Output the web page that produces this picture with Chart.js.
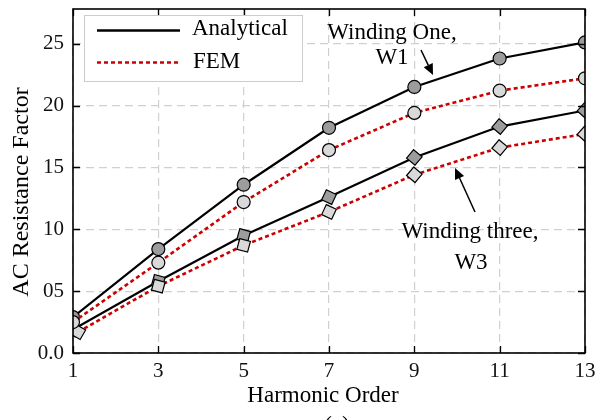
<!DOCTYPE html>
<html>
<head>
<meta charset="utf-8">
<script src="https://cdn.jsdelivr.net/npm/chart.js@4"></script>
<style>
html,body{margin:0;padding:0;background:#fff;}
#wrap{width:597px;height:420px;position:relative;}
</style>
</head>
<body>
<div id="wrap"><canvas id="c" width="597" height="420"></canvas></div>
<script>
const harmonics = [1, 3, 5, 7, 9, 11, 13];
const w3FemHarmonics = [1.12, 3, 5, 7, 9, 11, 13];
const w1Analytical = [2.9, 8.4, 13.6, 18.2, 21.5, 23.8, 25.1];
const w1FEM = [2.5, 7.3, 12.2, 16.4, 19.4, 21.2, 22.2];
const w3Analytical = [1.9, 5.8, 9.5, 12.6, 15.8, 18.3, 19.6];
const w3FEM = [1.7, 5.4, 8.7, 11.4, 14.4, 16.6, 17.7];
const xTicks = [1, 3, 5, 7, 9, 11, 13];
const yTicks = [0, 5, 10, 15, 20, 25];
const yTickLabels = ["0.0", "05", "10", "15", "20", "25"];
const legendLabels = ["Analytical", "FEM"];
const annotationW1 = ["Winding One,", "W1"];
const annotationW3 = ["Winding three,", "W3"];
const xTitle = "Harmonic Order";
const yTitle = "AC Resistance Factor";

const SERIF = '"Liberation Serif", "Times New Roman", serif';
const DARK = '#9c9c9c', LIGHT = '#d9d9d9', RED = '#cc0000';
const squareTilt = [30, 15, 15, 25, 40, 40, 42];

function pts(xs, ys){ return ys.map((y,i)=>({x:xs[i], y})); }

const analyticalStyle = {borderColor:'#000', borderWidth:2.2, pointBorderColor:'#000', pointBorderWidth:1.2};
const femStyle = {borderColor:RED, borderWidth:2.6, borderDash:[4,3], pointBorderColor:'#000', pointBorderWidth:1.2};

const datasets = [
  Object.assign({label:'W1 FEM', data:pts(harmonics,w1FEM), pointStyle:'circle', pointRadius:6.5, pointBackgroundColor:LIGHT}, femStyle),
  Object.assign({label:'W1 Analytical', data:pts(harmonics,w1Analytical), pointStyle:'circle', pointRadius:6.5, pointBackgroundColor:DARK}, analyticalStyle),
  Object.assign({label:'W3 FEM', data:pts(w3FemHarmonics,w3FEM), pointStyle:'rect', pointRotation:squareTilt, pointRadius:7.8, pointBackgroundColor:LIGHT}, femStyle),
  Object.assign({label:'W3 Analytical', data:pts(harmonics,w3Analytical), pointStyle:'rect', pointRotation:squareTilt, pointRadius:7.8, pointBackgroundColor:DARK}, analyticalStyle)
];
datasets.forEach(d=>{ d.fill=false; d.tension=0; d.pointHoverRadius=d.pointRadius; });

const framePlugin = {
  id:'frame',
  afterDatasetsDraw(chart){
    const {ctx, chartArea:a, scales:{x,y}} = chart;
    ctx.save();
    // inward ticks
    ctx.strokeStyle='#000'; ctx.lineWidth=1.3;
    const L=7;
    xTicks.forEach(v=>{
      const px=Math.round(x.getPixelForValue(v))+0.5;
      ctx.beginPath(); ctx.moveTo(px,a.bottom); ctx.lineTo(px,a.bottom-L);
      ctx.moveTo(px,a.top); ctx.lineTo(px,a.top+L); ctx.stroke();
    });
    yTicks.forEach(v=>{
      const py=Math.round(y.getPixelForValue(v))+0.5;
      ctx.beginPath(); ctx.moveTo(a.left,py); ctx.lineTo(a.left+L,py);
      ctx.moveTo(a.right,py); ctx.lineTo(a.right-L,py); ctx.stroke();
    });
    // frame
    ctx.lineWidth=1.6;
    ctx.strokeRect(a.left, a.top, a.right-a.left, a.bottom-a.top);

    // legend
    ctx.fillStyle='#fff';
    ctx.fillRect(84,15,218,66);
    ctx.strokeStyle='#cccccc'; ctx.lineWidth=1;
    ctx.strokeRect(84.5,15.5,218,66);
    ctx.lineWidth=2.4; ctx.strokeStyle='#000'; ctx.setLineDash([]);
    ctx.beginPath(); ctx.moveTo(97,30.5); ctx.lineTo(180,30.5); ctx.stroke();
    ctx.strokeStyle=RED; ctx.lineWidth=2.6; ctx.setLineDash([4,3]);
    ctx.beginPath(); ctx.moveTo(97,62.5); ctx.lineTo(180,62.5); ctx.stroke();
    ctx.setLineDash([]);
    ctx.fillStyle='#000'; ctx.font='23px '+SERIF;
    ctx.textAlign='left'; ctx.textBaseline='middle';
    ctx.fillText(legendLabels[0],192,29);
    ctx.fillText(legendLabels[1],193,62);

    // annotations
    ctx.textAlign='center';
    ctx.fillText(annotationW1[0],392,33);
    ctx.fillText(annotationW1[1],392,58);
    ctx.fillText(annotationW3[0],470,232);
    ctx.fillText(annotationW3[1],471,263);

    // axis titles
    ctx.fillText(xTitle,323,396);
    ctx.save();
    ctx.translate(22,192); ctx.rotate(-Math.PI/2);
    ctx.font='24px '+SERIF;
    ctx.fillText(yTitle,0,0);
    ctx.restore();

    // "(a)" caption, mostly cut off
    ctx.textBaseline='top';
    ctx.fillText('(a)',337,414);

    function arrow(x1,y1,x2,y2){
      const ang=Math.atan2(y2-y1,x2-x1), hl=11, hw=5;
      const bx=x2-hl*Math.cos(ang), by=y2-hl*Math.sin(ang);
      ctx.strokeStyle='#000'; ctx.lineWidth=1.5;
      ctx.beginPath(); ctx.moveTo(x1,y1); ctx.lineTo(bx,by); ctx.stroke();
      ctx.fillStyle='#000';
      ctx.beginPath(); ctx.moveTo(x2,y2);
      ctx.lineTo(bx+hw*Math.sin(ang), by-hw*Math.cos(ang));
      ctx.lineTo(bx-hw*Math.sin(ang), by+hw*Math.cos(ang));
      ctx.closePath(); ctx.fill();
    }
    arrow(421,50,433,75);
    arrow(475,212,455,168);
    ctx.restore();
  }
};

new Chart(document.getElementById('c'), {
  type:'line',
  data:{datasets},
  options:{
    responsive:false, animation:false,
    layout:{padding:{top:7,right:12,left:0,bottom:0}},
    plugins:{legend:{display:false}, tooltip:{enabled:false}},
    scales:{
      x:{
        type:'linear', min:1, max:13,
        afterFit(s){ s.height=67; s.paddingLeft=0; s.paddingRight=0; },
        afterBuildTicks(s){ s.ticks = xTicks.map(v=>({value:v})); },
        ticks:{color:'#111', padding:6, font:{family:SERIF,size:21}, maxRotation:0, autoSkip:false},
        grid:{color:'#d0d0d0', lineWidth:1.2, drawTicks:false},
        border:{display:false, dash:[8,5]},
        title:{display:false}
      },
      y:{
        type:'linear', min:0, max:27.8,
        afterFit(s){ s.width=73; s.paddingTop=0; s.paddingBottom=0; },
        afterBuildTicks(s){ s.ticks = yTicks.map(v=>({value:v})); },
        ticks:{color:'#111', padding:9, font:{family:SERIF,size:21}, autoSkip:false,
          callback:(v)=>{ const i=yTicks.indexOf(v); return i>=0?yTickLabels[i]:''; }},
        grid:{color:'#d0d0d0', lineWidth:1.2, drawTicks:false},
        border:{display:false, dash:[8,5]},
        title:{display:false}
      }
    }
  },
  plugins:[framePlugin]
});
</script>
</body>
</html>
